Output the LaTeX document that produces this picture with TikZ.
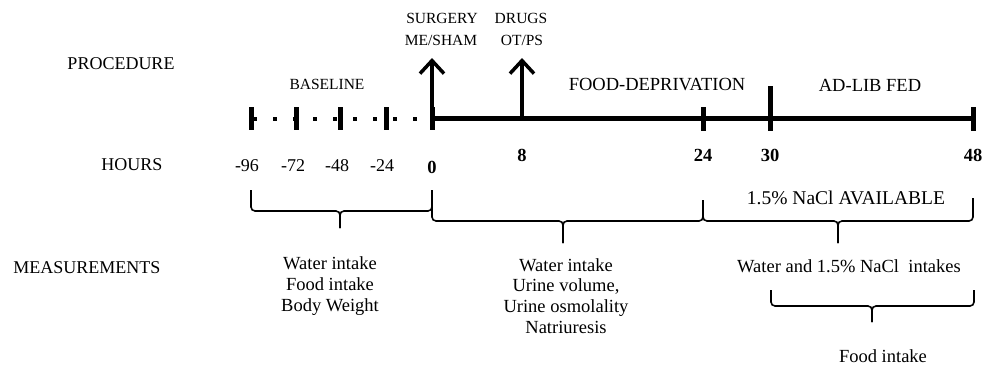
\documentclass[tikz,border=0pt]{standalone}
\usepackage{fontspec}
\setmainfont{Liberation Serif}
\usetikzlibrary{arrows.meta}
\begin{document}
\begin{tikzpicture}[x=1pt,y=-1pt,inner sep=0pt]
\tikzstyle{rowlabel}=[font=\fontsize{18}{20}\selectfont]
\tikzstyle{phase}=[font=\fontsize{18.5}{20}\selectfont]
\tikzstyle{small}=[font=\fontsize{15.5}{18}\selectfont]
\tikzstyle{hour}=[font=\fontsize{18}{20}\selectfont]
\tikzstyle{hourb}=[font=\fontsize{18.5}{20}\selectfont\bfseries]
\tikzstyle{meas}=[font=\fontsize{18.5}{20.7}\selectfont,align=center]
\tikzstyle{axis}=[line width=5pt]
\tikzstyle{dots}=[line width=4pt,dash pattern=on 4pt off 16pt]
\tikzstyle{tickmark}=[line width=5pt]
\tikzstyle{event}=[line width=3.5pt,-{Straight Barb[length=13pt,width=24pt]}]
\tikzstyle{brace0}=[line width=1.6pt,rounded corners=4pt]
\useasboundingbox (0,0) rectangle (996,372);
% labels on the left
\node at (121,64) (proc)[rowlabel] {PROCEDURE};
\node at (132,165) (hours)[rowlabel] {HOURS};
\node at (87,268) (meas)[rowlabel] {MEASUREMENTS};
% time line
\coordinate (t96) at (251,118);
\coordinate (t72) at (296,118);
\coordinate (t48) at (340,118);
\coordinate (t24) at (386,118);
\coordinate (t0) at (432,118);
\coordinate (t8) at (522,118);
\coordinate (h24) at (703,118);
\coordinate (h30) at (770,118);
\coordinate (h48) at (973,118);
\draw [dots] (253,119) -- (432,119);
\draw [axis] (t0) -- (h48);
\draw [tickmark] (251,107) -- (251,130);
\draw [tickmark] (296,107) -- (296,130);
\draw [tickmark] (340,107) -- (340,130);
\draw [tickmark] (386,107) -- (386,130);
\draw [tickmark] (432,107) -- (432,130);
\draw [tickmark] (703,107) -- (703,131);
\draw [tickmark] (770,86) -- (770,131);
\draw [tickmark] (973,107) -- (973,131);
% surgery and drugs
\coordinate (surgtip) at (432,58);
\coordinate (drugtip) at (522,58);
\draw [event] (t0) -- (surgtip);
\draw [event] (t8) -- (drugtip);
\node at (442,18) (surg)[small] {SURGERY};
\node at (441,40) (sham)[small] {ME/SHAM};
\node at (521,18) (drugs)[small] {DRUGS};
\node at (522,40) (otps)[small] {OT/PS};
% phases
\node at (327,84) (base)[small] {BASELINE};
\node at (657,85) (fd)[phase] {FOOD-DEPRIVATION};
\node at (870,85) (adlib)[phase] {AD-LIB FED};
% hours
\node at (247,166) (n96)[hour] {-96};
\node at (293,166) (n72)[hour] {-72};
\node at (337,166) (n48)[hour] {-48};
\node at (382,166) (n24)[hour] {-24};
\node at (432,167) (n0)[hourb] {0};
\node at (522,155) (n8)[hourb] {8};
\node at (703,155) (p24)[hourb] {24};
\node at (770,155) (p30)[hourb] {30};
\node at (973,155) (p48)[hourb] {48};
% braces
\draw [brace0] (251,190) -- (251,211) -- (340,211) -- (340,228);
\draw [brace0] (432,190) -- (432,211) -- (340,211) -- (340,228);
\draw [brace0] (432,190) -- (432,221) -- (563,221) -- (563,243);
\draw [brace0] (703,200) -- (703,221) -- (563,221) -- (563,243);
\draw [brace0] (703,200) -- (703,221) -- (838,221) -- (838,243);
\draw [brace0] (973,198) -- (973,221) -- (838,221) -- (838,243);
\draw [brace0] (771,290) -- (771,306) -- (872,306) -- (872,322);
\draw [brace0] (974,290) -- (974,306) -- (872,306) -- (872,322);
\node at (846,198) (nacl)[font=\fontsize{19.5}{20}\selectfont] {1.5\% NaCl AVAILABLE};
% measurements
\node at (330,286) (m1)[meas] {Water intake\\Food intake\\Body Weight};
\node at (566,296) (m2)[meas] {Water intake\\Urine volume,\\Urine osmolality\\Natriuresis};
\node at (849,266) (m3)[meas] {Water and 1.5\% NaCl\ \ intakes};
\node at (883,356) (m4)[meas] {Food intake};
\end{tikzpicture}
\end{document}
